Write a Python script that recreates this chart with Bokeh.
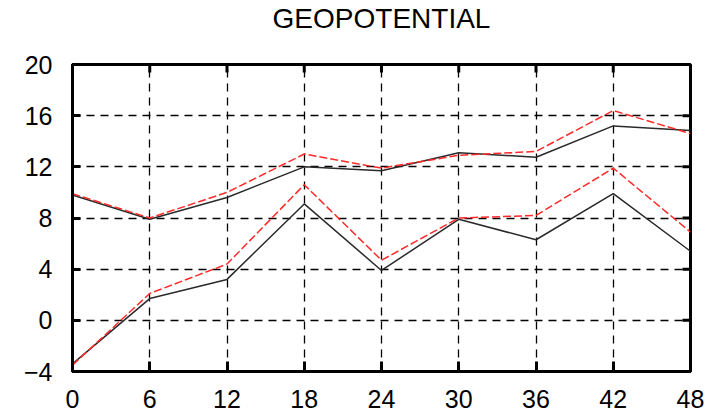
from bokeh.plotting import figure
from bokeh.models import LinearAxis, FixedTicker, Range1d, Grid, Title
from bokeh.embed import file_html
from bokeh.resources import INLINE

# Data
hours = [0, 6, 12, 18, 24, 30, 36, 42, 48]
upper_black = [9.8, 7.9, 9.6, 12.0, 11.7, 13.1, 12.75, 15.2, 14.85]
upper_red = [9.9, 8.0, 10.0, 13.0, 11.9, 12.9, 13.2, 16.4, 14.6]
lower_black = [-3.4, 1.7, 3.2, 9.1, 3.9, 7.9, 6.3, 9.9, 5.4]
lower_red = [-3.5, 2.1, 4.4, 10.6, 4.7, 8.0, 8.2, 11.9, 6.9]
x_ticks = [0, 6, 12, 18, 24, 30, 36, 42, 48]
y_ticks = [-4, 0, 4, 8, 12, 16, 20]
title_text = "GEOPOTENTIAL"

FONT = "Liberation Sans"
X0, X1, Y0, Y1 = 0, 48, -4, 20
FRAME_W, FRAME_H = 618, 308
TICK_PX = 8

p = figure(width=716, height=417, output_backend="svg", toolbar_location=None,
           x_range=Range1d(X0, X1), y_range=Range1d(Y0, Y1),
           min_border_left=72, min_border_right=26, min_border_top=63,
           min_border_bottom=46, x_axis_location=None, y_axis_location=None)
p.center = []

p.outline_line_color = "black"
p.outline_line_width = 3
p.outline_line_alpha = 1
p.background_fill_color = "white"
p.border_fill_color = "white"


def make_axis(tick_len, ticks, standoff):
    ax = LinearAxis(ticker=FixedTicker(ticks=ticks))
    ax.axis_line_color = "black"
    ax.axis_line_width = 3
    ax.major_tick_line_color = "black"
    ax.major_tick_line_width = 3
    ax.major_tick_in = tick_len
    ax.major_tick_out = 0
    ax.minor_tick_line_color = None
    ax.major_label_standoff = standoff
    ax.major_label_text_font = FONT
    ax.major_label_text_font_size = "25px"
    ax.major_label_text_color = "black"
    return ax


p.add_layout(make_axis(10, x_ticks, 18), "below")
p.add_layout(make_axis(TICK_PX, y_ticks, 20), "left")

# trailing line break keeps the title well above the frame
title = Title(text=title_text + "\n", text_font=FONT, text_font_size="28px",
              text_font_style="normal", text_color="black", align="center",
              vertical_align="bottom", standoff=0, text_line_height=1.0)
p.add_layout(title, "above")

xg = Grid(dimension=0, ticker=FixedTicker(ticks=x_ticks[1:-1]))
yg = Grid(dimension=1, ticker=FixedTicker(ticks=y_ticks[1:-1]))
for g in (xg, yg):
    g.grid_line_color = "black"
    g.grid_line_width = 1.3
    g.grid_line_dash = "8 6"
    p.add_layout(g, "center")

# mirrored ticks on the right and top edges (gnuplot style)
dx = TICK_PX * (X1 - X0) / FRAME_W
dy = TICK_PX * (Y1 - Y0) / FRAME_H
ry = y_ticks[1:-1]
p.segment(x0=[X1 - dx] * len(ry), y0=ry, x1=[X1] * len(ry), y1=ry,
          line_color="black", line_width=3)
tx = x_ticks[1:-1]
p.segment(x0=tx, y0=[Y1 - dy] * len(tx), x1=tx, y1=[Y1] * len(tx),
          line_color="black", line_width=3)

p.line(hours, upper_black, line_color="#2a2a2a", line_width=1.5)
p.line(hours, lower_black, line_color="#2a2a2a", line_width=1.5)
p.line(hours, upper_red, line_color="#ff2a2a", line_width=1.5, line_dash="8 3")
p.line(hours, lower_red, line_color="#ff2a2a", line_width=1.5, line_dash="8 3")

open("out.html", "w").write(file_html(p, INLINE))
